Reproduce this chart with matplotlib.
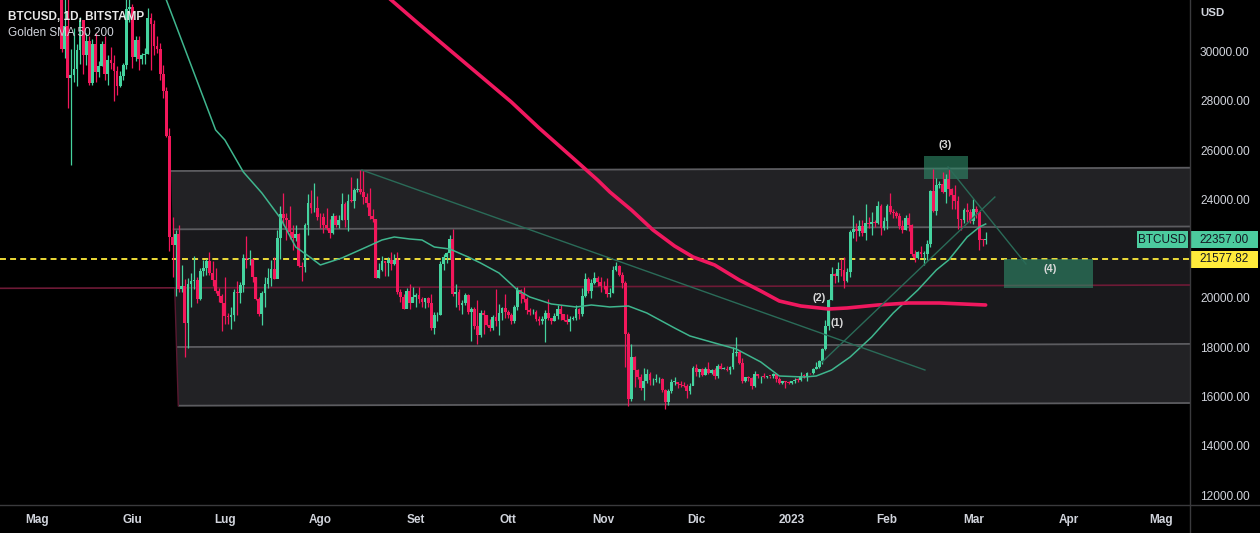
import datetime as dt
import matplotlib
matplotlib.use("Agg")
import matplotlib.pyplot as plt
import matplotlib.dates as mdates
import matplotlib.transforms as mtransforms
from matplotlib.patches import Polygon, Rectangle
from matplotlib.lines import Line2D

plt.rcParams['font.family'] = ['Liberation Sans', 'DejaVu Sans']

# ---------------- data (daily candles, BTCUSD Bitstamp) ----------------
first_date = dt.date(2022, 5, 8)
first_open = 35470

close_may = [34060, 30100, 31020, 28940, 29030, 29280, 30080, 31300, 29860, 30420, 28720, 30300,
             29190, 29430, 30290, 29090, 29650, 29540, 29200, 28620, 29020, 29450, 31720, 31790]
high_may = [35500, 34250, 32600, 32150, 30100, 30950, 30300, 31400, 31300, 30750, 30650, 30500,
            30750, 29600, 30450, 30650, 29850, 30200, 29850, 29400, 29200, 29550, 32150, 32400]
low_may = [33700, 30000, 29750, 27700, 25400, 28750, 28600, 29500, 29100, 29450, 28650, 28650,
           28750, 28950, 29400, 28850, 28650, 29300, 28000, 28250, 28550, 28850, 29300, 31200]

close_jun = [29800, 30460, 29700, 29860, 29900, 31370, 31130, 30210, 30110, 29080, 28420, 26570,
             22490, 22140, 22580, 20380, 20470, 19000, 20560, 20700, 20720, 19970, 21100, 21230,
             21500, 21030, 20730, 20280, 20100, 19780]
high_jun = [31950, 30650, 30650, 29950, 30150, 31750, 31550, 31300, 30650, 30350, 29450, 28550,
            26900, 23300, 22750, 22950, 21350, 20750, 20800, 21000, 21700, 20850, 21200, 21550,
            21600, 21850, 21500, 21200, 20400, 20150]
low_jun = [29350, 29600, 29250, 29500, 29500, 29900, 29250, 29850, 29950, 28850, 28100, 26550,
           21900, 20850, 20100, 20250, 20250, 17600, 17950, 19650, 20350, 19800, 19900, 20900,
           20950, 20950, 20500, 20200, 19850, 18650]

close_jul = [19270, 19240, 19300, 20230, 20190, 20540, 21620, 21590, 21590, 20850, 19960, 19330,
             20220, 20580, 20830, 21190, 20790, 22430, 23400, 23230, 23160, 22680, 22450, 22580,
             21310, 21250, 22950, 23850, 23640, 23650, 23300]
high_jul = [20850, 19400, 19650, 20350, 20700, 20650, 21800, 22500, 21950, 21600, 20850, 20050,
            20300, 20850, 21200, 21550, 21650, 22750, 23750, 24250, 23450, 23750, 22950, 22950,
            22650, 21450, 23050, 24200, 24400, 24650, 24150]
low_jul = [18950, 18950, 18750, 19050, 19300, 19800, 20250, 21200, 21350, 20650, 19900, 19250,
           18900, 19650, 20400, 20500, 20750, 20800, 21600, 22950, 22350, 22400, 21950, 22300,
           21250, 20700, 21050, 22550, 23450, 23500, 23150]

close_aug = [23270, 22980, 22820, 22620, 23310, 22950, 23170, 23810, 23150, 23950, 23940, 24400,
             24440, 24310, 24100, 23850, 23340, 23190, 20830, 21140, 21520, 21400, 21530, 21370,
             21560, 20240, 20040, 19550, 20290, 19800, 20050]
high_aug = [23450, 23450, 23650, 23200, 23450, 23350, 23350, 24250, 23900, 24200, 24900, 24450,
            24850, 25200, 25200, 24250, 24450, 23600, 23200, 21400, 21700, 21500, 21650, 21850,
            21800, 21850, 20350, 20150, 20400, 20550, 20450]
low_aug = [22850, 22650, 22750, 22450, 22600, 22900, 22850, 23150, 22900, 22700, 23900, 23650,
           24300, 24200, 23800, 23700, 23200, 23100, 20800, 20800, 21100, 20900, 20900, 21150,
           21350, 20150, 19850, 19550, 19600, 19550, 19850]

close_sep = [20130, 19950, 19830, 19990, 19800, 18790, 19290, 19320, 21360, 21650, 21830, 22400,
             20180, 20240, 19700, 19800, 20110, 19420, 19540, 18870, 18480, 19400, 19290, 18920,
             18800, 19220, 19080, 19410, 19590, 19430]
high_sep = [20200, 20450, 20050, 20000, 20050, 20150, 19450, 19450, 21500, 21800, 21850, 22550,
            22800, 20550, 20350, 19900, 20200, 20150, 19650, 19650, 19900, 19500, 19500, 19300,
            19150, 19300, 20350, 19750, 19650, 20150]
low_sep = [19650, 19800, 19650, 19600, 19650, 18700, 18550, 19050, 19300, 21150, 21400, 21600,
           20100, 19650, 19500, 19350, 19700, 19350, 18250, 18750, 18150, 18400, 18550, 18850,
           18650, 18700, 18850, 18500, 19100, 19200]

close_oct = [19310, 19060, 19630, 20340, 20160, 19960, 19530, 19420, 19450, 19130, 19060, 19160,
             19380, 19180, 19070, 19270, 19550, 19330, 19120, 19040, 19160, 19200, 19570, 19340,
             20090, 20770, 20300, 20600, 20810, 20630, 20490]
high_oct = [19500, 19400, 19700, 20450, 20350, 20450, 20050, 19600, 19550, 19500, 19250, 19250,
            19500, 19950, 19200, 19400, 19700, 19700, 19350, 19350, 19250, 19250, 19700, 19600,
            20400, 21000, 20850, 20750, 21050, 20900, 20850]
low_oct = [19200, 18950, 19000, 19500, 19800, 19850, 19350, 19300, 19350, 19050, 18900, 18950,
           18200, 19100, 18950, 19050, 19150, 19100, 19050, 18950, 18650, 19100, 19100, 19150,
           19250, 20050, 20200, 20000, 20550, 20500, 20250]

close_nov = [20480, 20150, 20210, 21150, 21300, 20920, 20600, 18540, 15880, 17590, 17070, 16810,
             16330, 16620, 16900, 16660, 16690, 16700, 16700, 16280, 15780, 16230, 16600, 16600,
             16520, 16460, 16440, 16220, 16440, 17170]
high_nov = [20700, 20800, 20400, 21300, 21450, 21350, 21050, 20700, 18600, 18150, 17650, 17100,
            16900, 17150, 17100, 17000, 16750, 16900, 16800, 16750, 16300, 16300, 16700, 16800,
            16600, 16650, 16600, 16500, 16550, 17250]
low_nov = [20350, 20050, 20050, 20200, 21100, 20900, 20400, 17200, 15600, 15800, 16400, 16700,
           16250, 15850, 16550, 16450, 16450, 16600, 16550, 16200, 15500, 15650, 16150, 16450,
           16350, 16400, 16400, 15950, 16100, 16450]

close_dec = [16980, 17100, 16890, 17110, 16970, 17090, 16840, 17230, 17130, 17130, 17090, 17210,
             17780, 17810, 17360, 16630, 16780, 16740, 16440, 16900, 16820, 16830, 16780, 16840,
             16830, 16920, 16710, 16550, 16630, 16600, 16540]
high_dec = [17300, 17100, 17150, 17200, 17400, 17100, 17150, 17300, 17350, 17200, 17250, 17250,
            18000, 18400, 17850, 17550, 16800, 16850, 16800, 17050, 16900, 16850, 16950, 16850,
            16850, 16950, 16950, 16800, 16650, 16650, 16650]
low_dec = [16850, 16800, 16850, 16880, 16900, 16900, 16700, 16750, 17100, 17100, 17050, 16900,
           17100, 17650, 17300, 16550, 16600, 16650, 16300, 16400, 16750, 16550, 16750, 16750,
           16750, 16750, 16600, 16500, 16500, 16350, 16500]

close_jan = [16610, 16680, 16670, 16850, 16830, 16950, 16940, 17120, 17180, 17440, 17940, 18850,
             19930, 20960, 20880, 21170, 21130, 20680, 21070, 22670, 22780, 22710, 22920, 22630,
             23060, 23010, 23080, 23030, 23740, 22830, 23130]
high_jan = [16650, 16750, 16750, 17000, 16900, 17000, 16950, 17150, 17400, 17500, 17950, 19100,
            19950, 21250, 21000, 21450, 21600, 21650, 21200, 22750, 23350, 23050, 23150, 23150,
            23800, 23300, 23500, 23150, 23950, 23800, 23300]
low_jan = [16500, 16550, 16600, 16650, 16750, 16650, 16900, 16900, 17100, 17150, 17300, 17900,
           18700, 19900, 20600, 20650, 20900, 20400, 20650, 20850, 22450, 22300, 22500, 22500,
           22350, 22850, 22550, 22900, 23000, 22550, 22750]

close_feb = [23730, 23490, 23430, 23330, 22930, 22760, 23240, 22960, 21800, 21630, 21860, 21780,
             21780, 22200, 24330, 23540, 24570, 24630, 24300, 24840, 24440, 24190, 23950, 23190,
             23160, 23560, 23490, 23140]
high_feb = [23800, 24250, 23600, 23550, 23450, 23150, 23350, 23450, 23000, 21950, 21900, 22100,
            21900, 22350, 24400, 25250, 24850, 24750, 25100, 25050, 25250, 24450, 24600, 24150,
            23200, 23650, 23850, 23600]
low_feb = [22800, 23400, 23250, 23250, 22800, 22650, 22750, 22700, 21700, 21450, 21600, 21650,
           21350, 21550, 22050, 23500, 23350, 24450, 24250, 23850, 24150, 23600, 23600, 22800,
           22750, 23050, 23100, 23050]

close_mar = [23630, 23470, 22360, 22350, 22357]
high_mar = [24000, 23750, 23500, 22400, 22680]
low_mar = [23000, 23250, 21950, 22100, 22200]

# SMA values
sma50_dates = ['2022-06-07', '2022-06-12', '2022-06-28', '2022-07-01', '2022-07-07', '2022-07-13',
               '2022-07-19', '2022-07-24', '2022-07-29', '2022-08-01', '2022-08-08', '2022-08-16',
               '2022-08-21', '2022-08-25', '2022-08-30', '2022-09-03', '2022-09-07', '2022-09-12',
               '2022-09-18', '2022-09-22', '2022-09-28', '2022-10-04', '2022-10-08', '2022-10-15',
               '2022-10-23', '2022-10-28', '2022-11-03', '2022-11-09', '2022-11-15', '2022-11-24',
               '2022-11-29', '2022-12-07', '2022-12-14', '2022-12-22', '2022-12-28', '2023-01-05',
               '2023-01-09', '2023-01-14', '2023-01-20', '2023-01-27', '2023-02-03', '2023-02-11',
               '2023-02-17', '2023-02-21', '2023-02-27', '2023-03-03', '2023-03-05']
sma50_values = [33880, 32094, 26818, 26412, 25113, 24261, 23246, 22069, 21623, 21339, 21623, 22069,
                22353, 22475, 22394, 22353, 22069, 21988, 21663, 21420, 21014, 20324, 20040, 19756,
                19634, 19715, 19634, 19674, 19390, 18781, 18457, 18173, 17929, 17401, 16833, 16792,
                16833, 17076, 17604, 18416, 19390, 20324, 21136, 21542, 22475, 22881, 23003]

sma200_dates = ['2022-08-20', '2022-08-24', '2022-09-02', '2022-09-12', '2022-09-22', '2022-10-02',
                '2022-10-11', '2022-10-22', '2022-10-30', '2022-11-03', '2022-11-10', '2022-11-17',
                '2022-11-24', '2022-11-30', '2022-12-07', '2022-12-15', '2022-12-22', '2022-12-28',
                '2023-01-04', '2023-01-13', '2023-01-19', '2023-01-29', '2023-02-08', '2023-02-18',
                '2023-03-05']
sma200_values = [32500, 32094, 31120, 30065, 29010, 27954, 26899, 25681, 24788, 24301, 23570, 22759,
                 22109, 21663, 21339, 20730, 20283, 19877, 19674, 19553, 19593, 19715, 19796, 19796,
                 19715]

month_ticks = ['2022-05-01', '2022-06-01', '2022-07-01', '2022-08-01', '2022-09-01', '2022-10-01',
               '2022-11-01', '2022-12-01', '2023-01-01', '2023-02-01', '2023-03-01', '2023-04-01',
               '2023-05-01']
month_labels = ['Mag', 'Giu', 'Lug', 'Ago', 'Set', 'Ott', 'Nov', 'Dic', '2023', 'Feb', 'Mar', 'Apr', 'Mag']
price_ticks = [12000, 14000, 16000, 18000, 20000, 24000, 26000, 28000, 30000]

alert_price = 21577.82
symbol = 'BTCUSD'

# channel drawing (left point date/price, right point date/price)
channel_lines = [
    ('2022-06-13 12:00', 25154, '2023-05-11 08:00', 25287),
    ('2022-06-14 02:00', 22787, '2023-05-11 08:00', 22901),
    ('2022-06-15 07:00', 18010, '2023-05-11 08:00', 18136),
    ('2022-06-15 21:00', 15627, '2023-05-11 08:00', 15737),
]
mid_line = ('2022-04-19 00:00', 20392, '2023-05-11 08:00', 20526)
mid_left = ('2022-06-14 17:00', 20400)

trend_lines = [
    ('2022-08-14 12:00', 25190, '2023-02-13 07:00', 17076),
    ('2023-01-10 22:00', 17401, '2023-03-08 00:00', 24098),
    ('2023-02-20 19:00', 25316, '2023-03-18 02:00', 21379),
]
boxes = [
    ('2023-02-13 00:00', '2023-02-27 07:00', 24829, 25762, '(3)', '2023-02-19 19:00', 26209),
    ('2023-03-11 00:00', '2023-04-08 22:00', 20404, 21578, '(4)', '2023-03-25 22:00', 21176),
]
wave_labels = [('(1)', '2023-01-15 17:00', 18984), ('(2)', '2023-01-09 22:00', 19998)]

# ---------------- assemble ----------------
closes = (close_may + close_jun + close_jul + close_aug + close_sep + close_oct + close_nov +
          close_dec + close_jan + close_feb + close_mar)
highs = (high_may + high_jun + high_jul + high_aug + high_sep + high_oct + high_nov +
         high_dec + high_jan + high_feb + high_mar)
lows = (low_may + low_jun + low_jul + low_aug + low_sep + low_oct + low_nov +
        low_dec + low_jan + low_feb + low_mar)
n = min(len(closes), len(highs), len(lows))
closes, highs, lows = closes[:n], highs[:n], lows[:n]
opens = [first_open] + closes[:-1]
dates = [mdates.date2num(first_date + dt.timedelta(days=i)) for i in range(n)]

D = mdates.datestr2num

W, H = 1260, 533
fig = plt.figure(figsize=(W / 100, H / 100), dpi=100, facecolor='black')
ax_left, ax_right, ax_top, ax_bottom = 0, 1190, 0, 505
ax = fig.add_axes([ax_left / W, 1 - ax_bottom / H, (ax_right - ax_left) / W, (ax_bottom - ax_top) / H])
ax.set_facecolor('black')

x0 = mdates.date2num(dt.date(2022, 5, 1))
ax.set_xlim(x0 - 12.01, x0 + 374.35)
ymin, ymax = 11597, 32094
ax.set_ylim(ymin, ymax)
units_per_px = (ymax - ymin) / (ax_bottom - ax_top)

band_light = '#222225'
band_dark = '#19191c'
line_gray = '#5c5c60'

# bands (polygons between successive channel lines)
pts = [(D(a), pa, D(b), pb) for a, pa, b, pb in channel_lines]
fills = [band_light, band_dark, band_light]
for i in range(3):
    la, pa, ra, pra = pts[i]
    lb, pb, rb, prb = pts[i + 1]
    ax.add_patch(Polygon([(la, pa), (ra, pra), (rb, prb), (lb, pb)], closed=True,
                         facecolor=fills[i], edgecolor='none', zorder=0.5))
for la, pa, ra, pra in pts:
    ax.plot([la, ra], [pa, pra], color=line_gray, lw=1.3, zorder=1, solid_capstyle='butt')

# red mid line and slanted left edge
ax.plot([D(mid_line[0]), D(mid_line[2])], [mid_line[1], mid_line[3]], color='#6e1a36', lw=1.2, zorder=1)
ax.plot([D(mid_left[0]), pts[3][0]], [mid_left[1], pts[3][1]], color='#5a1830', lw=1.0, zorder=1)

# yellow alert line
ax.axhline(alert_price, color='#ffeb3b', lw=1.3, dashes=(3.3, 2.3), zorder=1.2)

# boxes
for a, b, p0, p1, lab, lx, ly in boxes:
    ax.add_patch(Rectangle((D(a), p0), D(b) - D(a), p1 - p0, facecolor='#2f8a69', alpha=0.62,
                           edgecolor='none', zorder=1.5))
    ax.text(D(lx), ly, lab, color='#d8d8d8', fontsize=7.8, fontweight='bold',
            ha='center', va='center', zorder=6)

# candles
up_c, dn_c = '#45d39f', '#f2175b'
cols = [up_c if c >= o else dn_c for o, c in zip(opens, closes)]
ax.vlines(dates, lows, highs, colors=cols, lw=0.9, zorder=3)
bottoms = [min(o, c) for o, c in zip(opens, closes)]
heights = [max(abs(c - o), 25) for o, c in zip(opens, closes)]
ax.bar(dates, heights, bottom=bottoms, width=0.9, color=cols, edgecolor='none', zorder=3.1)

# SMAs
ax.plot([D(s) for s in sma50_dates], sma50_values, color='#3fb68e', lw=1.1, zorder=4)
ax.plot([D(s) for s in sma200_dates], sma200_values, color='#f0185f', lw=2.6, zorder=4,
        solid_capstyle='round')

# trend lines
for a, pa, b, pb in trend_lines:
    ax.plot([D(a), D(b)], [pa, pb], color='#2a6b58', lw=1.0, zorder=4.5)

for lab, lx, ly in wave_labels:
    ax.text(D(lx), ly, lab, color='#d8d8d8', fontsize=7.8, fontweight='bold',
            ha='center', va='center', zorder=6)

# axes styling
for s in ax.spines.values():
    s.set_visible(False)
ax.yaxis.tick_right()
ax.set_yticks(price_ticks)
ax.set_yticklabels([f'{p:.2f}' for p in price_ticks])
ax.tick_params(axis='y', length=0, pad=7.2, labelsize=8.6, labelcolor='#d1d4dc')
ax.set_xticks([D(m) for m in month_ticks])
ax.set_xticklabels(month_labels)
ax.tick_params(axis='x', length=0, pad=6.5, labelsize=8.5, labelcolor='#d1d4dc')
for t in ax.get_xticklabels():
    t.set_fontweight('bold')

# separators
fig.add_artist(Line2D([0, 1], [1 - 505 / H, 1 - 505 / H], transform=fig.transFigure, color='#3a3a3d', lw=1))
fig.add_artist(Line2D([1190 / W, 1190 / W], [0, 1], transform=fig.transFigure, color='#3a3a3d', lw=1))

# legend text
fig.text(8 / W, 1 - 16.7 / H, 'BTCUSD, 1D, BITSTAMP', color='#e8e8e8', fontsize=8.5,
         fontweight='bold', ha='left', va='center')
fig.text(8 / W, 1 - 33.3 / H, 'Golden SMA 50 200', color='#d1d4dc', fontsize=8.5,
         ha='left', va='center')
fig.text(1200 / W, 1 - 13.5 / H, 'USD', color='#d1d4dc', fontsize=8.2, fontweight='bold',
         ha='left', va='center')

# price tags
trans = mtransforms.blended_transform_factory(ax.transAxes, ax.transData)
half = 8.5 * units_per_px
last_close = closes[-1]
tag_green = '#4ccb9e'
ax.add_patch(Rectangle((1137 / 1190, last_close - half), 51 / 1190, 2 * half, transform=trans,
                       facecolor=tag_green, edgecolor='none', clip_on=False, zorder=7))
ax.text(1162.5 / 1190, last_close, symbol, transform=trans, color='#131722', fontsize=8.5,
        ha='center', va='center', clip_on=False, zorder=8)
ax.add_patch(Rectangle((1191 / 1190, last_close - half), 67 / 1190, 2 * half, transform=trans,
                       facecolor=tag_green, edgecolor='none', clip_on=False, zorder=7))
ax.text(1224.5 / 1190, last_close, f'{last_close:.2f}', transform=trans, color='#131722', fontsize=8.5,
        ha='center', va='center', clip_on=False, zorder=8)
ax.add_patch(Rectangle((1191 / 1190, alert_price - half), 67 / 1190, 2 * half, transform=trans,
                       facecolor='#ffeb3b', edgecolor='none', clip_on=False, zorder=7))
ax.text(1224.5 / 1190, alert_price, f'{alert_price:.2f}', transform=trans, color='#131722', fontsize=8.5,
        ha='center', va='center', clip_on=False, zorder=8)

fig.savefig('out.png', dpi=100, facecolor='black')
